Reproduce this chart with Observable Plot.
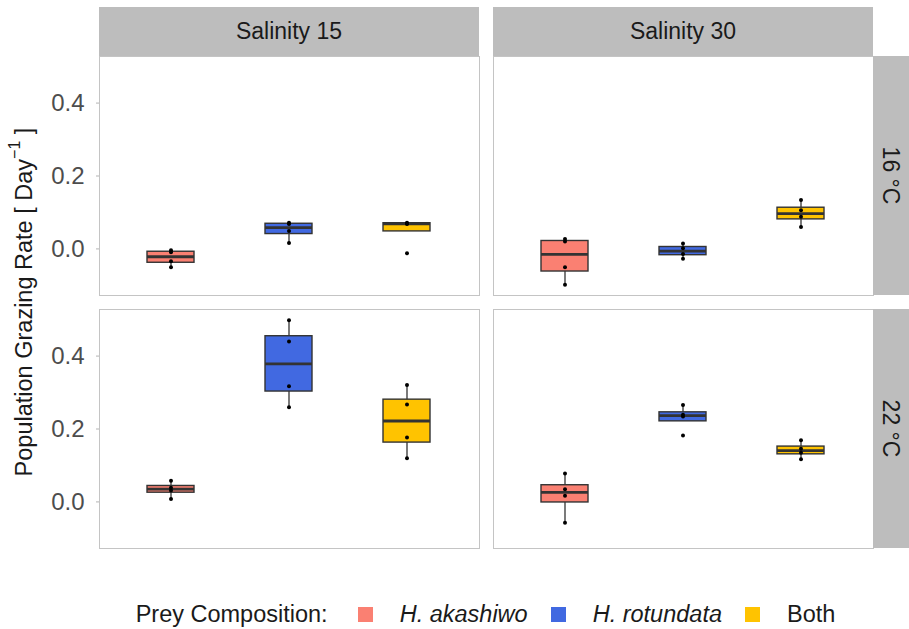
<!DOCTYPE html>
<html>
<head>
<meta charset="utf-8">
<script src="https://cdn.jsdelivr.net/npm/d3@7"></script>
<script src="https://cdn.jsdelivr.net/npm/@observablehq/plot@0.6"></script>
<style>
  body { margin: 0; background: #fff; font-family: "Liberation Sans", Arial, sans-serif; }
  #wrap { width: 909px; }
  svg { font-family: "Liberation Sans", Arial, sans-serif; }
  #legend { height: 30px; padding-top: 39px; margin-left: 98px; width: 775px;
            display: flex; justify-content: center; align-items: center;
            font-size: 23.5px; color: #1a1a1a; }
  #legend .sw { display: inline-block; width: 15px; height: 15px; }
  #legend i, #legend span.t { white-space: nowrap; }
</style>
</head>
<body>
<div id="wrap"></div>
<script>
// ---- data ----
const salinity = ["Salinity 15", "Salinity 30"];
const temperature = ["16 °C", "22 °C"];
const prey = ["H. akashiwo", "H. rotundata", "Both"];
const preyColors = ["#FA8072", "#4169E1", "#FFC300"];
const yTicks = [0, 0.2, 0.4];

// replicate grazing rates, per panel, in prey order
const s15_t16 = [[-0.050, -0.034, -0.009, -0.004], [0.016, 0.049, 0.068, 0.072], [-0.012, 0.068, 0.070, 0.072]];
const s30_t16 = [[-0.098, -0.050, 0.020, 0.027], [-0.027, -0.014, 0.002, 0.015], [0.060, 0.088, 0.106, 0.134]];
const s15_t22 = [[0.008, 0.031, 0.039, 0.058], [0.260, 0.317, 0.440, 0.498], [0.120, 0.177, 0.267, 0.321]];
const s30_t22 = [[-0.057, 0.017, 0.035, 0.078], [0.182, 0.234, 0.239, 0.266], [0.117, 0.135, 0.146, 0.169]];

const panels = [
  [salinity[0], temperature[0], s15_t16],
  [salinity[1], temperature[0], s30_t16],
  [salinity[0], temperature[1], s15_t22],
  [salinity[1], temperature[1], s30_t22]
];
const rows = [];
for (const [sal, temp, groups] of panels)
  groups.forEach((vals, i) => vals.forEach(v => rows.push({sal, temp, prey: prey[i], value: v})));

// Tukey whisker reducers
function fences(v) {
  const s = Array.from(v).sort(d3.ascending);
  const q1 = d3.quantile(s, 0.25), q3 = d3.quantile(s, 0.75), r = 1.5 * (q3 - q1);
  return [s, q1 - r, q3 + r];
}
const lowWhisker = v => { const [s, lo] = fences(v); return d3.min(s.filter(d => d >= lo)); };
const highWhisker = v => { const [s, , hi] = fences(v); return d3.max(s.filter(d => d <= hi)); };

const yMin = d3.min(rows, d => d.value), yMax = d3.max(rows, d => d.value), pad = 0.05 * (yMax - yMin);
const common = {x: "prey", y: "value", fx: "sal", fy: "temp"};
const boxStroke = "#333333";

const chart = Plot.plot({
  width: 909, height: 560,
  marginTop: 56, marginLeft: 98, marginRight: 36, marginBottom: 12,
  style: {fontFamily: "Liberation Sans, Arial, sans-serif", background: "white"},
  fx: {domain: salinity, paddingInner: 0.036, paddingOuter: 0, axis: null, label: null},
  fy: {domain: temperature, paddingInner: 0.057, paddingOuter: 0, axis: null, label: null},
  x: {domain: prey, type: "band", paddingInner: 0.6, paddingOuter: 0.4, axis: null, label: null},
  y: {domain: [yMin - pad, yMax + pad], label: null},
  color: {domain: prey, range: preyColors},
  marks: [
    Plot.frame({stroke: "#c4c4c4", strokeWidth: 1}),
    Plot.axisY({ticks: yTicks, tickFormat: d3.format(".1f"), tickSize: 3, tickPadding: 12,
                fontSize: 24, label: null, stroke: "#b3b3b3", fill: "#4d4d4d"}),
    Plot.ruleX(rows, Plot.groupX({y1: lowWhisker, y2: highWhisker}, {...common, stroke: boxStroke, strokeWidth: 1.3})),
    Plot.barY(rows, Plot.groupX({y1: "p25", y2: "p75"}, {...common, fill: "prey", stroke: boxStroke, strokeWidth: 1.4})),
    Plot.tickY(rows, Plot.groupX({y: "p50"}, {...common, stroke: boxStroke, strokeWidth: 2.8})),
    Plot.dot(rows, {...common, r: 2, fill: "black", stroke: "none"})
  ]
});

// facet strips drawn from the facet scales
const fxScale = chart.scale("fx"), fyScale = chart.scale("fy");
const svgSel = d3.select(chart);
const stripFill = "#bdbdbd";
const W = 909;
const stripTop = svgSel.append("g").attr("aria-label", "strips-top");
salinity.forEach(s => {
  const x0 = fxScale.apply(s), bw = fxScale.bandwidth;
  stripTop.append("rect").attr("x", x0).attr("y", 7).attr("width", bw).attr("height", 49).attr("fill", stripFill);
  stripTop.append("text").attr("x", x0 + bw / 2).attr("y", 31).attr("text-anchor", "middle")
    .attr("dominant-baseline", "central").attr("font-size", 23).attr("fill", "#1a1a1a").text(s);
});
const stripRight = svgSel.append("g").attr("aria-label", "strips-right");
const rx0 = W - 36;
temperature.forEach(t => {
  const y0 = fyScale.apply(t), bh = fyScale.bandwidth;
  stripRight.append("rect").attr("x", rx0).attr("y", y0).attr("width", 36).attr("height", bh).attr("fill", stripFill);
  stripRight.append("text").attr("transform", `translate(${rx0 + 18},${y0 + bh / 2}) rotate(90)`)
    .attr("text-anchor", "middle").attr("dominant-baseline", "central")
    .attr("font-size", 23).attr("fill", "#1a1a1a").text(t);
});
// y-axis title
const yr = fyScale.range;
const yc = (yr[0] + yr[1]) / 2;
const ytitle = svgSel.append("text").attr("transform", `translate(24,${yc}) rotate(-90)`)
  .attr("text-anchor", "middle").attr("dominant-baseline", "central")
  .attr("font-size", 23.5).attr("fill", "#1a1a1a");
ytitle.append("tspan").text("Population Grazing Rate [ Day");
ytitle.append("tspan").attr("font-size", 16).attr("dy", -10).text("−1");
ytitle.append("tspan").attr("dy", 10).text(" ]");

document.getElementById("wrap").appendChild(chart);

// legend
const legend = d3.select("#wrap").append("div").attr("id", "legend");
legend.append("span").attr("class", "t").style("margin-right", "30px").text("Prey Composition:");
prey.forEach((p, i) => {
  legend.append("span").attr("class", "sw").style("background", preyColors[i])
    .style("margin-left", i === 0 ? "0px" : "23px");
  legend.append(i < 2 ? "i" : "span").attr("class", "t").style("margin-left", "27px").text(p);
});
</script>
</body>
</html>
